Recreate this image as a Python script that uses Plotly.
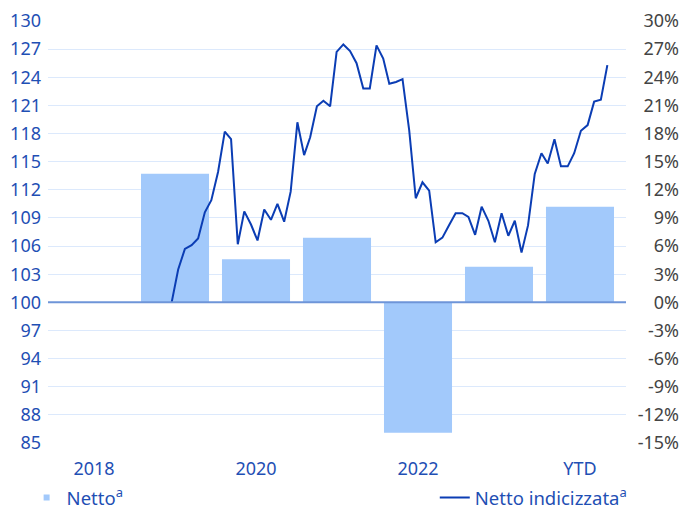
import plotly.graph_objects as go
import pandas as pd

# ---- data ----
categories = ["2018", "2019", "2020", "2021", "2022", "2023", "YTD"]
netto_pct = [None, 13.7, 4.6, 6.9, -13.9, 3.8, 10.2]
index_base = 100  # 0% on the right axis == 100 on the left axis

line_start = "2019-05-31"
netto_indicizzata = [
    100.0, 103.5, 105.7, 106.1, 106.8, 109.6, 110.9, 113.9, 118.2, 117.4,
    106.2, 109.7, 108.3, 106.6, 109.9, 108.8, 110.5, 108.6, 111.8, 119.2,
    115.7, 117.6, 120.9, 121.5, 120.9, 126.7, 127.5, 126.8, 125.5, 122.8,
    122.8, 127.4, 126.0, 123.3, 123.5, 123.8, 118.3, 111.1, 112.8, 111.9,
    106.4, 106.9, 108.2, 109.5, 109.5, 109.1, 107.2, 110.2, 108.7, 106.4,
    109.5, 107.1, 108.7, 105.3, 108.2, 113.7, 115.9, 114.8, 117.4, 114.5,
    114.5, 115.9, 118.3, 118.9, 121.4, 121.6, 125.3,
]
line_dates = pd.date_range(line_start, periods=len(netto_indicizzata), freq="ME")

x_tick_labels = ["2018", "2020", "2022", "YTD"]
left_ticks = list(range(85, 131, 3))
right_ticks = list(range(-15, 31, 3))
right_tick_text = [f"{v}%" for v in right_ticks]

# ---- styling ----
TEXT = "#1f4fb4"
BAR = "#a2c9fb"
LINE = "#0b3db4"
GRID = "#dce9fc"
ZERO = "#6e95d8"
FONT = "Noto Sans"
FS = 18
LFS = 18.5

fig = go.Figure()
# bars: percentage change drawn from the 100 baseline (left and right scales coincide)
fig.add_trace(go.Bar(
    x=categories, y=netto_pct, base=index_base, name="Netto<sup>a</sup>",
    marker=dict(color=BAR, line=dict(width=0)),
    xaxis="x", yaxis="y", showlegend=False,
))
# legend-only entry with a small square symbol (also hosts the % axis)
fig.add_trace(go.Scatter(
    x=[None], y=[None], name="Netto<sup>a</sup>", mode="markers",
    marker=dict(symbol="square", size=6, color=BAR),
    xaxis="x", yaxis="y2", legend="legend",
))
fig.add_trace(go.Scatter(
    x=line_dates, y=netto_indicizzata, name="Netto indicizzata<sup>a</sup>",
    mode="lines", line=dict(color=LINE, width=2),
    xaxis="x2", yaxis="y", legend="legend2",
))

W, H = 684, 509
ml, mt, mb = 48, 21, 66
plot_right = 626
right_label_edge = 682

fig.add_shape(
    type="line", xref="x domain", x0=0, x1=1, yref="y", y0=index_base, y1=index_base,
    line=dict(color=ZERO, width=2), layer="above",
)

fig.update_layout(
    width=W, height=H,
    margin=dict(l=ml, r=W - plot_right, t=mt, b=mb, autoexpand=False),
    paper_bgcolor="white", plot_bgcolor="white",
    font=dict(family=FONT, size=FS, color=TEXT),
    bargap=0.16,
    showlegend=True,
    xaxis=dict(
        type="category",
        range=[-0.568, 6.568],
        tickmode="array", tickvals=x_tick_labels, ticktext=x_tick_labels,
        showgrid=False, zeroline=False, showline=False, ticks="",
        ticklabelstandoff=13,
    ),
    xaxis2=dict(
        type="date", overlaying="x", visible=False,
        range=["2017-11-06 12:00", "2025-02-24"],
    ),
    yaxis=dict(
        range=[85, 130], tickmode="array", tickvals=left_ticks,
        showgrid=True, gridcolor=GRID, gridwidth=1.3,
        zeroline=False, showline=False, ticks="",
        ticklabelstandoff=6,
    ),
    yaxis2=dict(
        range=[-15, 30], overlaying="y", anchor="x", side="right",
        ticklabelposition="inside", ticklabeloverflow="allow",
        ticklabelstandoff=-(right_label_edge - plot_right),
        tickmode="array", tickvals=right_ticks, ticktext=right_tick_text,
        showgrid=False, zeroline=False, showline=False, ticks="",
    ),
    legend=dict(
        orientation="h", x=-0.037, xanchor="left", y=-0.13, yanchor="middle",
        font=dict(size=LFS, color=TEXT), itemwidth=30,
        bgcolor="rgba(0,0,0,0)",
    ),
    legend2=dict(
        orientation="h", x=1.01, xanchor="right", y=-0.13, yanchor="middle",
        font=dict(size=LFS, color=TEXT), itemwidth=30,
        bgcolor="rgba(0,0,0,0)",
    ),
)

fig.write_html(
    "out.html",
    config={"displayModeBar": False},
    post_script="document.body.style.margin='0';",
)
